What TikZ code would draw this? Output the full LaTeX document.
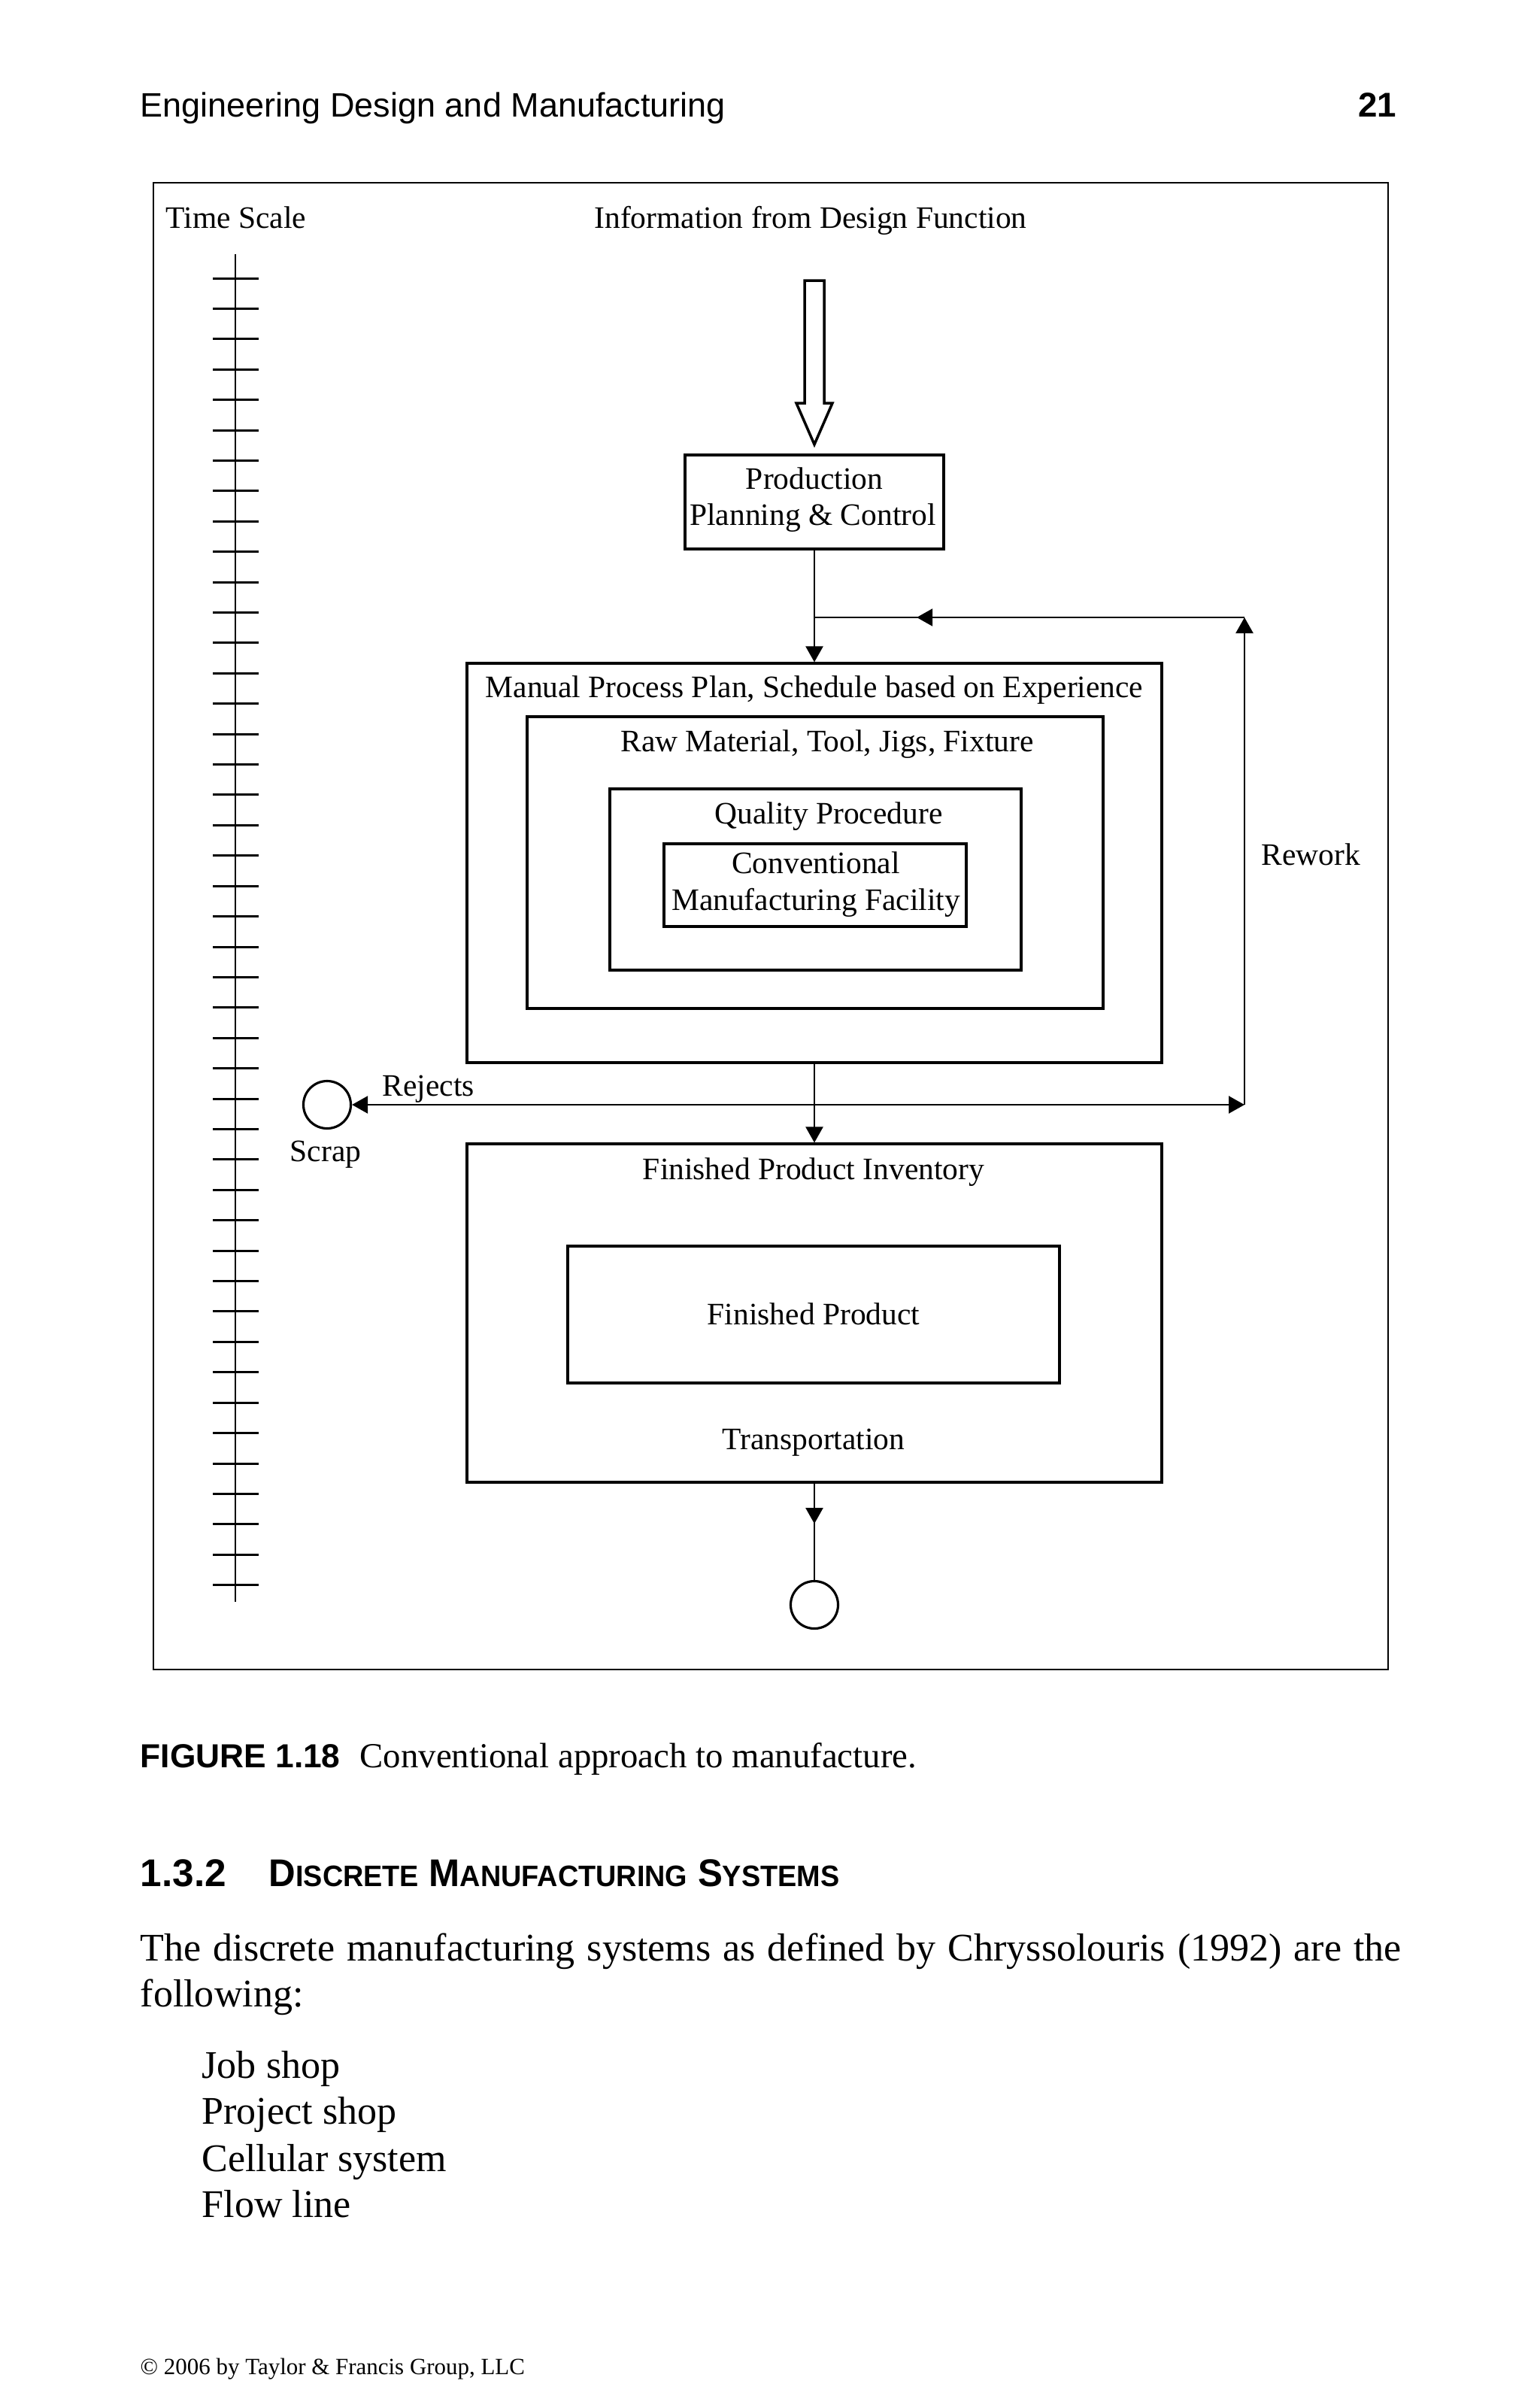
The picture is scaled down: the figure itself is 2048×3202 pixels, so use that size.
\documentclass[tikz,border=0pt]{standalone}
\usepackage{fontspec}
\setmainfont{Liberation Serif}
\newfontfamily\hdr{Liberation Sans}
\usetikzlibrary{arrows.meta,fit,decorations.markings}
\begin{document}
\begin{tikzpicture}[x=0.01cm,y=-0.01cm,
  box/.style={draw, line width=0.9pt, inner sep=0pt},
  conn/.style={line width=0.65pt},
  tipend/.style={-{Triangle[length=0.21cm,width=0.23cm]}},
  lbl/.style={inner sep=0pt, yshift=-0.035cm, font={\fontsize{11.8}{14}\selectfont}},
  ring/.style={draw, circle, line width=0.9pt, minimum size=0.63cm, inner sep=0pt},
  tscale/.style={line width=0.85pt},
  body/.style={inner sep=0pt, anchor=base west, font={\fontsize{14.8}{17}\selectfont}},
  midtip/.style={postaction={decorate}, decoration={markings, mark=at position #1 with {\arrow{Triangle[length=0.21cm,width=0.23cm]}}}}
]
\useasboundingbox (0,0) rectangle (2048,3202);
\fill[white] (0,0) rectangle (2048,3202);

% page header
\node[inner sep=0pt, anchor=base west, font={\hdr\fontsize{12.8}{15}\selectfont}] (hdr) at (186,155) {Engineering Design and Manufacturing};
\node[inner sep=0pt, anchor=base east, font={\hdr\bfseries\fontsize{13}{15}\selectfont}] (pgno) at (1858,155) {21};

% figure frame
\node[draw, line width=0.7pt, inner sep=0pt, fit={(204,243) (1846,2220)}] (frame) {};

% time scale
\node[lbl, anchor=mid west] (tslbl) at (220,292) {Time Scale};
\coordinate (tstop) at (313,338);
\coordinate (tsbot) at (313,2130);
\draw[tscale] (tstop) -- (tsbot);
\foreach \i in {0,...,43} {
  \draw[tscale] (283,{370+40.41*\i}) -- (344,{370+40.41*\i});
}

% information input
\node[lbl, anchor=mid] (info) at (1078,292) {Information from Design Function};
\draw[line width=1pt, line join=miter] (1070,373) -- (1096,373) -- (1096,536) -- (1107,536) -- (1083,591) -- (1059,536) -- (1070,536) -- cycle;

% production planning
\node[box, fit={(911,605) (1255,730)}] (ppc) {};
\node[lbl, anchor=mid] (ppct1) at (1083,639) {Production};
\node[lbl, anchor=mid] (ppct2) at (1081,687) {Planning \& Control};

% nested boxes
\node[box, fit={(621,882) (1545,1413)}] (manual) {};
\node[lbl, anchor=mid] (manualt) at (1083,916) {Manual Process Plan, Schedule based on Experience};
\node[box, fit={(701,953) (1467,1341)}] (raw) {};
\node[lbl, anchor=mid] (rawt) at (1100,988) {Raw Material, Tool, Jigs, Fixture};
\node[box, fit={(811,1049) (1358,1290)}] (qual) {};
\node[lbl, anchor=mid] (qualt) at (1102,1084) {Quality Procedure};
\node[box, fit={(883,1122) (1285,1232)}] (conv) {};
\node[lbl, anchor=mid] (convt1) at (1085,1150) {Conventional};
\node[lbl, anchor=mid] (convt2) at (1085,1199) {Manufacturing Facility};

% inventory
\node[box, fit={(621,1521) (1545,1971)}] (inv) {};
\node[lbl, anchor=mid] (invt) at (1082,1557) {Finished Product Inventory};
\node[box, fit={(755,1657) (1409,1839)}] (fp) {};
\node[lbl, anchor=mid] (fpt) at (1082,1750) {Finished Product};
\node[lbl, anchor=mid] (transt) at (1082,1916) {Transportation};

% circles
\node[ring] (scrap) at (435,1469) {};
\node[ring] (sink) at (1083,2134) {};
\node[lbl, anchor=base] (scrapt) at (433,1541) {Scrap};
\node[lbl, anchor=base west] (rejt) at (508,1454) {Rejects};
\node[lbl, anchor=mid west] (rewt) at (1677,1139) {Rework};

% connectors
\coordinate (j) at (1083,821);
\coordinate (rc) at (1655,821);
\coordinate (rr) at (1655,1469);
\draw[conn, tipend] (ppc.south) -- (ppc.south |- manual.north);
\draw[conn, tipend] (rr) -- (rc);
\draw[conn, midtip=0.762] (rc) -- (j);
\draw[conn, {Triangle[length=0.21cm,width=0.23cm]}-{Triangle[length=0.21cm,width=0.23cm]}] (scrap.east) -- (rr);
\draw[conn, tipend] (manual.south) -- (inv.north);
\draw[conn, midtip=0.417] (inv.south) -- (sink.north);

% caption
\node[inner sep=0pt, anchor=base west, font={\hdr\bfseries\fontsize{12.6}{15}\selectfont}] (figlbl) at (186,2350) {FIGURE 1.18};
\node[inner sep=0pt, anchor=base west, font={\fontsize{13.3}{16}\selectfont}] (figcap) at (478,2350) {Conventional approach to manufacture.};

% section heading
\node[inner sep=0pt, anchor=base west, font={\hdr\bfseries\fontsize{14.6}{17}\selectfont}] (secno) at (186,2508) {1.3.2};
\node[inner sep=0pt, anchor=base west, font={\hdr\bfseries\fontsize{14.6}{17}\selectfont}] (sectitle) at (357,2508) {\scalebox{0.96}[1]{D{\fontsize{11.2}{13}\selectfont ISCRETE} M{\fontsize{11.2}{13}\selectfont ANUFACTURING} S{\fontsize{11.2}{13}\selectfont YSTEMS}}};

% body text
\node[body] (line1) at (186,2607) {\makebox[16.76cm][s]{The discrete manufacturing systems as defined by Chryssolouris (1992) are the}};
\node[body] (line2) at (186,2668) {following:};
\node[body] (item1) at (268,2763) {Job shop};
\node[body] (item2) at (268,2824) {Project shop};
\node[body] (item3) at (268,2887) {Cellular system};
\node[body] (item4) at (268,2948) {Flow line};

% footer
\node[inner sep=0pt, anchor=base west, font={\fontsize{8.8}{11}\selectfont}] (footer) at (186,3157) {© 2006 by Taylor \& Francis Group, LLC};
\end{tikzpicture}
\end{document}
